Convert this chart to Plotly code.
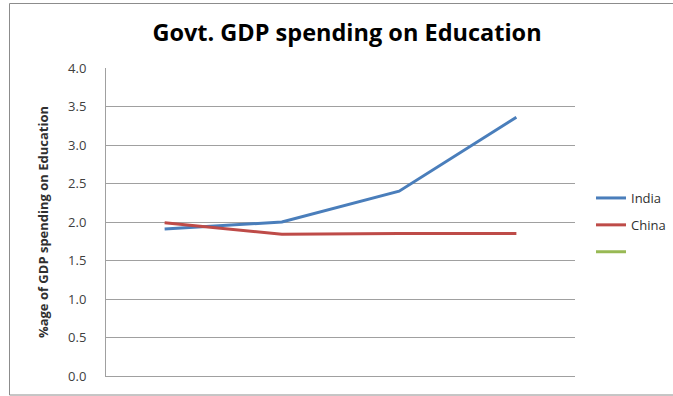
import plotly.graph_objects as go

# Data
categories = [0, 1, 2, 3]
india = [1.91, 2.00, 2.40, 3.36]
china = [1.99, 1.84, 1.85, 1.85]
y_ticks = [0.0, 0.5, 1.0, 1.5, 2.0, 2.5, 3.0, 3.5, 4.0]

W, H = 673, 396
L, R, T, B = 106, 98, 68, 20
pw, ph = W - L - R, H - T - B


def px_x(p):
    return (p - L) / pw


def px_y(p):
    return (H - B - p) / ph


fig = go.Figure()
fig.add_trace(go.Scatter(x=categories, y=india, mode="lines", name="India",
                         legendgroup="a",
                         line=dict(color="#4A7EBB", width=3)))
fig.add_trace(go.Scatter(x=categories, y=china, mode="lines", name="China",
                         legendgroup="b",
                         line=dict(color="#BE4B48", width=3)))
fig.add_trace(go.Scatter(x=[None], y=[None], mode="lines", name="",
                         legendgroup="c",
                         line=dict(color="#98B954", width=3), showlegend=True))

fig.update_layout(
    width=W, height=H,
    margin=dict(l=L, r=R, t=T, b=B, autoexpand=False),
    paper_bgcolor="white", plot_bgcolor="white",
    font=dict(family="Open Sans", size=12, color="#404040"),
    title=dict(text="<b>Govt. GDP spending on Education</b>",
               x=px_x(347), xref="paper", xanchor="center",
               y=1 - 33 / H, yanchor="middle",
               font=dict(family="Open Sans", size=23.5, color="black")),
    showlegend=True,
    legend=dict(x=px_x(591), y=px_y(183), xanchor="left", yanchor="top",
                font=dict(size=13, color="#303030"), tracegroupgap=7,
                itemwidth=30, bgcolor="rgba(0,0,0,0)"),
    xaxis=dict(range=[-0.5, 3.5], showticklabels=False, showgrid=False,
               zeroline=False, showline=True, linecolor="#A0A0A0",
               ticks="", mirror=False),
    yaxis=dict(range=[0, 4.0], tickvals=y_ticks,
               ticktext=[f"{v:.1f}" for v in y_ticks],
               showgrid=True, gridcolor="#A0A0A0", gridwidth=1,
               zeroline=False, showline=True, linecolor="#A0A0A0",
               ticks="", ticklabelstandoff=16,
               tickfont=dict(size=13, color="#404040"),
               title=dict(text="<b>%age of GDP spending on Education</b>",
                          font=dict(size=13, color="#303030"), standoff=16)),
    shapes=[dict(type="rect", xref="paper", yref="paper",
                 x0=px_x(9.5), x1=px_x(700), y0=px_y(395), y1=px_y(3.5),
                 line=dict(color="#8C8C8C", width=1), layer="below")],
)

fig.write_html("out.html")
